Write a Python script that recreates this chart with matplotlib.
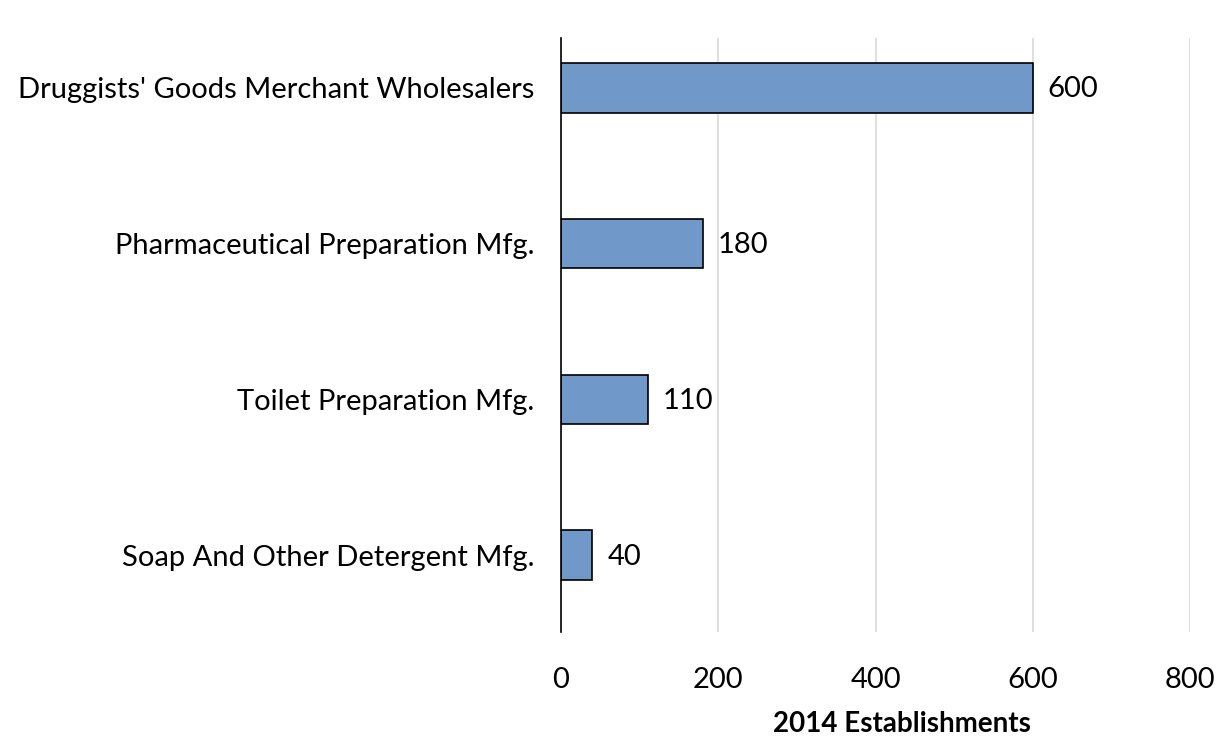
import matplotlib.pyplot as plt

categories = ["Soap And Other Detergent Mfg.", "Toilet Preparation Mfg.",
              "Pharmaceutical Preparation Mfg.", "Druggists' Goods Merchant Wholesalers"]
values = [40, 110, 180, 600]
xticks = [0, 200, 400, 600, 800]

plt.rcParams['font.family'] = ['Lato', 'DejaVu Sans']

fig = plt.figure(figsize=(12.17, 7.39), dpi=100)
ax = fig.add_axes([0.461, 0.145, 0.517, 0.804])

pos = list(range(len(categories)))
bars = ax.barh(pos, values, height=0.32, color='#7099C9', edgecolor='black', linewidth=1.2, zorder=3)
for p, v in zip(pos, values):
    ax.text(v + 19, p - 0.01, str(v), va='center', ha='left', fontsize=21)

ax.set_yticks(pos)
ax.set_yticklabels(categories, fontsize=21)
ax.set_xticks(xticks)
ax.set_xticklabels([str(t) for t in xticks], fontsize=21)
ax.set_xlim(0, 800)
ax.set_ylim(-0.49, 3.32)
# axis title placed by figure coords so it stays inside the canvas
fig.text(902 / 1217, 1 - 724 / 739, '2014 Establishments', fontsize=20, fontweight='bold',
         ha='center', va='center')

ax.grid(axis='x', color='#d9d9d9', linewidth=1.2, zorder=0)
for s in ['top', 'right', 'bottom']:
    ax.spines[s].set_visible(False)
ax.spines['left'].set_color('black')
ax.spines['left'].set_linewidth(1.2)
ax.spines['left'].set_zorder(4)
ax.tick_params(axis='x', length=0, pad=25)
ax.tick_params(axis='y', length=0, pad=19)

fig.savefig('out.png', dpi=100)
